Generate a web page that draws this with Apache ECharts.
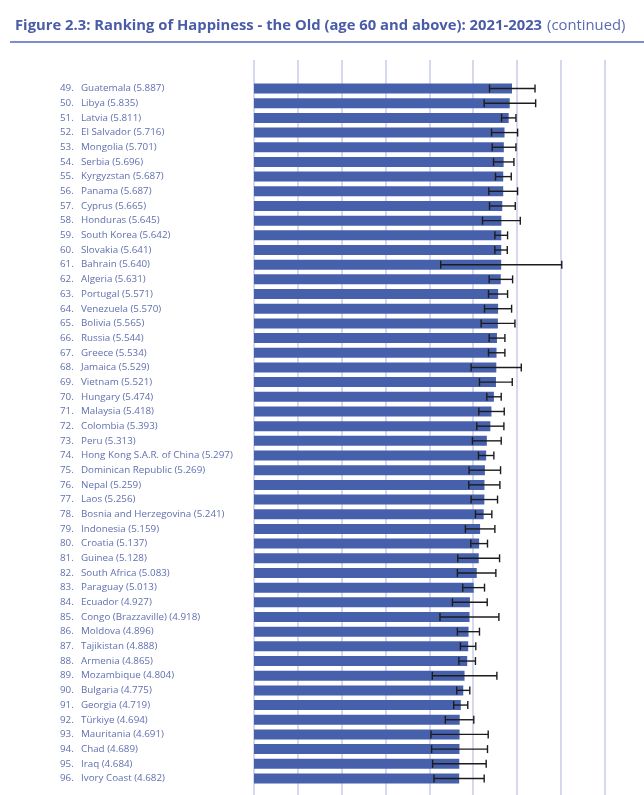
<!DOCTYPE html>
<html>
<head>
<meta charset="utf-8">
<script src="https://cdn.jsdelivr.net/npm/echarts@6/dist/echarts.min.js"></script>
<style>
html,body{margin:0;padding:0;background:#fff;}
#chart{width:644px;height:795px;}
</style>
</head>
<body>
<div id="chart"></div>
<script>
const ranks = [49,50,51,52,53,54,55,56,57,58,59,60,61,62,63,64,65,66,67,68,69,70,71,72,73,74,75,76,77,78,79,80,81,82,83,84,85,86,87,88,89,90,91,92,93,94,95,96];
const countries = ["Guatemala","Libya","Latvia","El Salvador","Mongolia","Serbia","Kyrgyzstan","Panama","Cyprus","Honduras","South Korea","Slovakia","Bahrain","Algeria","Portugal","Venezuela","Bolivia","Russia","Greece","Jamaica","Vietnam","Hungary","Malaysia","Colombia","Peru","Hong Kong S.A.R. of China","Dominican Republic","Nepal","Laos","Bosnia and Herzegovina","Indonesia","Croatia","Guinea","South Africa","Paraguay","Ecuador","Congo (Brazzaville)","Moldova","Tajikistan","Armenia","Mozambique","Bulgaria","Georgia","Türkiye","Mauritania","Chad","Iraq","Ivory Coast"];
const scores = [5.887,5.835,5.811,5.716,5.701,5.696,5.687,5.687,5.665,5.645,5.642,5.641,5.640,5.631,5.571,5.570,5.565,5.544,5.534,5.529,5.521,5.474,5.418,5.393,5.313,5.297,5.269,5.259,5.256,5.241,5.159,5.137,5.128,5.083,5.013,4.927,4.918,4.896,4.888,4.865,4.804,4.775,4.719,4.694,4.691,4.689,4.684,4.682];
const lowCI = [5.374,5.252,5.649,5.420,5.435,5.466,5.511,5.359,5.374,5.214,5.496,5.496,4.260,5.366,5.351,5.260,5.183,5.366,5.351,4.954,5.145,5.313,5.130,5.084,4.985,5.122,4.908,4.901,4.954,5.053,4.824,4.947,4.649,4.641,4.763,4.527,4.244,4.641,4.710,4.675,4.069,4.626,4.557,4.366,4.038,4.053,4.076,4.107];
const highCI = [6.412,6.427,5.977,6.015,5.977,5.931,5.870,6.015,5.962,6.076,5.786,5.779,7.023,5.901,5.786,5.878,5.954,5.725,5.725,6.099,5.893,5.641,5.710,5.702,5.641,5.473,5.626,5.611,5.557,5.427,5.496,5.328,5.603,5.519,5.260,5.321,5.588,5.145,5.061,5.053,5.542,4.924,4.878,5.015,5.344,5.328,5.298,5.252];

const chart = echarts.init(document.getElementById('chart'), null, {renderer:'canvas'});
const errData = scores.map((s, i) => [lowCI[i], highCI[i], i]);

const option = {
  animation: false,
  backgroundColor: '#ffffff',
  title: {
    left: 10, top: 12,
    text: '{b|Figure 2.3: Ranking of Happiness - the Old (age 60 and above): 2021-2023} {n|(continued)}',
    textStyle: {
      rich: {
        b: {fontFamily: 'Open Sans', fontWeight: 'bold', fontSize: 14.8, color: '#4a5ca8'},
        n: {fontFamily: 'Open Sans', fontWeight: 'normal', fontSize: 14.8, color: '#5a6ab0'}
      }
    }
  },
  graphic: [{
    type: 'line', shape: {x1: 10, y1: 42, x2: 644, y2: 42},
    style: {stroke: '#7d8ecf', lineWidth: 2}
  }],
  grid: [
    {left: 254, width: 350.6, top: 60, bottom: 0},
    {left: 254, width: 350.6, top: 81.2, height: 704.6}
  ],
  xAxis: [
    {gridIndex: 0, type: 'value', min: 0, max: 8, interval: 1,
      axisLine: {show: false}, axisTick: {show: false}, axisLabel: {show: false},
      splitLine: {show: true, lineStyle: {color: '#c9cce8', width: 1.5}}},
    {gridIndex: 1, type: 'value', min: 0, max: 8, interval: 1, show: false, splitLine: {show: false}}
  ],
  yAxis: [
    {gridIndex: 0, type: 'value', show: false, splitLine: {show: false}},
    {gridIndex: 1, type: 'category', inverse: true, data: countries,
      axisLine: {show: false}, axisTick: {show: false}, splitLine: {show: false},
      axisLabel: {
        align: 'left', margin: 194, interval: 0,
        formatter: (v, i) => '{n|' + ranks[i] + '.}{t|' + countries[i] + ' (' + scores[i].toFixed(3) + ')}',
        rich: {
          n: {width: 21, fontFamily: 'Open Sans', fontSize: 9.8, color: '#6170b0'},
          t: {fontFamily: 'Open Sans', fontSize: 9.8, color: '#6170b0'}
        }
      }}
  ],
  series: [
    {type: 'bar', xAxisIndex: 1, yAxisIndex: 1, data: scores, barWidth: 10,
      itemStyle: {color: '#4760ab'}, silent: true},
    {type: 'custom', xAxisIndex: 1, yAxisIndex: 1, data: errData,
      encode: {x: [0, 1], y: 2}, silent: true, z: 5,
      renderItem: function (params, api) {
        const lo = api.coord([api.value(0), api.value(2)]);
        const hi = api.coord([api.value(1), api.value(2)]);
        const h = 4;
        const st = {stroke: '#1c1c1c', lineWidth: 1.4};
        return {type: 'group', children: [
          {type: 'line', shape: {x1: lo[0], y1: lo[1], x2: hi[0], y2: hi[1]}, style: st},
          {type: 'line', shape: {x1: lo[0], y1: lo[1] - h, x2: lo[0], y2: lo[1] + h}, style: st},
          {type: 'line', shape: {x1: hi[0], y1: hi[1] - h, x2: hi[0], y2: hi[1] + h}, style: st}
        ]};
      }}
  ]
};
chart.setOption(option);
</script>
</body>
</html>
